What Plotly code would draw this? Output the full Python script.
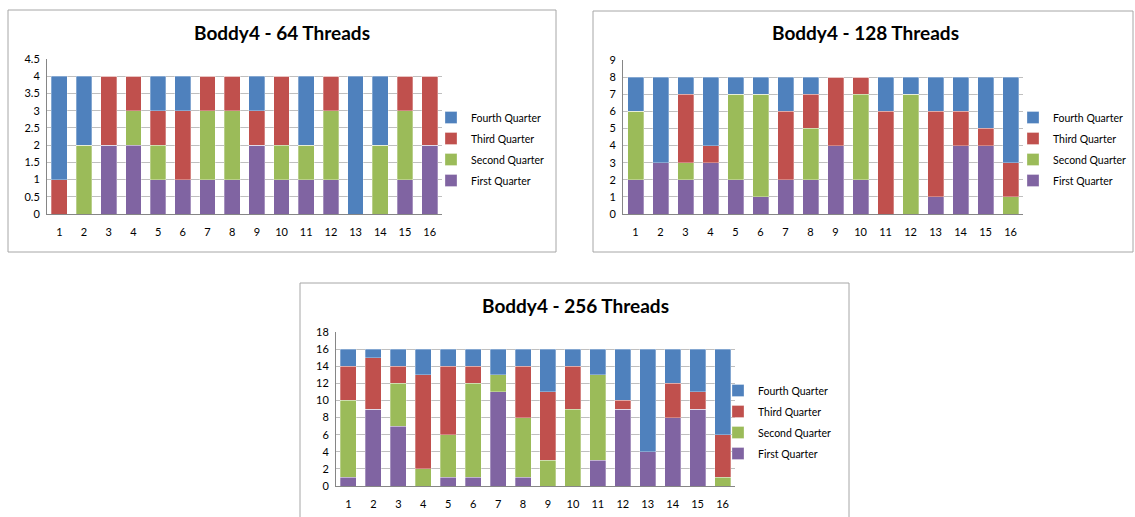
import plotly.graph_objects as go

W, H = 1135, 517

categories = [str(i) for i in range(1, 17)]
series_names = ["First Quarter", "Second Quarter", "Third Quarter", "Fourth Quarter"]
colors = ["#8064A2", "#9BBB59", "#C0504D", "#4F81BD"]

# 64 threads
t64_first = [0, 0, 2, 2, 1, 1, 1, 1, 2, 1, 1, 1, 0, 0, 1, 2]
t64_second = [0, 2, 0, 1, 1, 0, 2, 2, 0, 1, 1, 2, 0, 2, 2, 0]
t64_third = [1, 0, 2, 1, 1, 2, 1, 1, 1, 2, 0, 1, 0, 0, 1, 2]
t64_fourth = [3, 2, 0, 0, 1, 1, 0, 0, 1, 0, 2, 0, 4, 2, 0, 0]

# 128 threads
t128_first = [2, 3, 2, 3, 2, 1, 2, 2, 4, 2, 0, 0, 1, 4, 4, 0]
t128_second = [4, 0, 1, 0, 5, 6, 0, 3, 0, 5, 0, 7, 0, 0, 0, 1]
t128_third = [0, 0, 4, 1, 0, 0, 4, 2, 4, 1, 6, 0, 5, 2, 1, 2]
t128_fourth = [2, 5, 1, 4, 1, 1, 2, 1, 0, 0, 2, 1, 2, 2, 3, 5]

# 256 threads
t256_first = [1, 9, 7, 0, 1, 1, 11, 1, 0, 0, 3, 9, 4, 8, 9, 0]
t256_second = [9, 0, 5, 2, 5, 11, 2, 7, 3, 9, 10, 0, 0, 0, 0, 1]
t256_third = [4, 6, 2, 11, 8, 2, 0, 6, 8, 5, 0, 1, 0, 4, 2, 5]
t256_fourth = [2, 1, 2, 3, 2, 2, 3, 2, 5, 2, 3, 6, 12, 4, 5, 10]

charts = [
    dict(title="Boddy4 - 64 Threads", data=[t64_first, t64_second, t64_third, t64_fourth],
         box=(8, 10, 556, 252), plot=(47, 59, 442, 214), yr=(0, 4.5), dtick=0.5,
         legend_xy=(431, 103), title_xy=(282, 32)),
    dict(title="Boddy4 - 128 Threads", data=[t128_first, t128_second, t128_third, t128_fourth],
         box=(593, 11, 1133, 252), plot=(623, 60, 1023, 214), yr=(0, 9), dtick=1,
         legend_xy=(1013, 103), title_xy=(865, 33)),
    dict(title="Boddy4 - 256 Threads", data=[t256_first, t256_second, t256_third, t256_fourth],
         box=(300, 283, 849, 530), plot=(336, 332, 735, 486), yr=(0, 18), dtick=2,
         legend_xy=(718, 376), title_xy=(575, 305)),
]


def px_x(x):
    return x / W


def px_y(y):
    return 1 - y / H


fig = go.Figure()
font_family = "Lato, 'Open Sans', sans-serif"
shapes = []
annotations = []

for i, ch in enumerate(charts):
    suffix = "" if i == 0 else str(i + 1)
    xa, ya = "x" + suffix, "y" + suffix
    leg = "legend" + suffix
    for k, (name, color, vals) in enumerate(zip(series_names, colors, ch["data"])):
        fig.add_trace(go.Bar(
            x=categories, y=vals, name=name, xaxis=xa, yaxis=ya, legend=leg,
            legendgroup=name + suffix, legendrank=1000 - k,
            marker=dict(color=color, line=dict(color="rgba(255,255,255,0.5)", width=0.6)),
        ))
    x0, y0, x1, y1 = ch["plot"]
    fig.layout["xaxis" + suffix] = dict(
        domain=[px_x(x0), px_x(x1)], anchor=ya, type="category",
        showline=True, linecolor="#868686", linewidth=1, showgrid=False,
        ticks="", ticklabelstandoff=8, tickfont=dict(size=11, color="#000", family=font_family),
        fixedrange=True,
    )
    fig.layout["yaxis" + suffix] = dict(
        domain=[px_y(y1), px_y(y0)], anchor=xa, range=list(ch["yr"]), dtick=ch["dtick"],
        showline=True, linecolor="#868686", linewidth=1, showgrid=True,
        gridcolor="#BFBFBF", gridwidth=1, zeroline=False, ticks="",
        ticklabelstandoff=4, tickfont=dict(size=11, color="#000", family=font_family),
        fixedrange=True,
    )
    lx, ly = ch["legend_xy"]
    fig.layout[leg] = dict(
        x=px_x(lx), y=px_y(ly), xanchor="left", yanchor="top",
        traceorder="grouped", bgcolor="rgba(0,0,0,0)",
        font=dict(size=10.5, color="#000", family=font_family),
        itemwidth=30, tracegroupgap=2,
    )
    bx0, by0, bx1, by1 = ch["box"]
    shapes.append(dict(type="rect", xref="paper", yref="paper",
                       x0=px_x(bx0), x1=px_x(bx1), y0=px_y(by1), y1=px_y(by0),
                       line=dict(color="#A6A6A6", width=1), fillcolor="rgba(0,0,0,0)", layer="below"))
    tx, ty = ch["title_xy"]
    annotations.append(dict(text="<b>%s</b>" % ch["title"], xref="paper", yref="paper",
                            x=px_x(tx), y=px_y(ty), xanchor="center", yanchor="middle",
                            showarrow=False, font=dict(size=19, color="#000", family=font_family)))

fig.update_layout(
    width=W, height=H, margin=dict(l=0, r=0, t=0, b=0, autoexpand=False),
    barmode="stack", bargap=0.36,
    paper_bgcolor="white", plot_bgcolor="white",
    shapes=shapes, annotations=annotations,
    showlegend=True,
)

fig.write_html("out.html", config={"displayModeBar": False})
